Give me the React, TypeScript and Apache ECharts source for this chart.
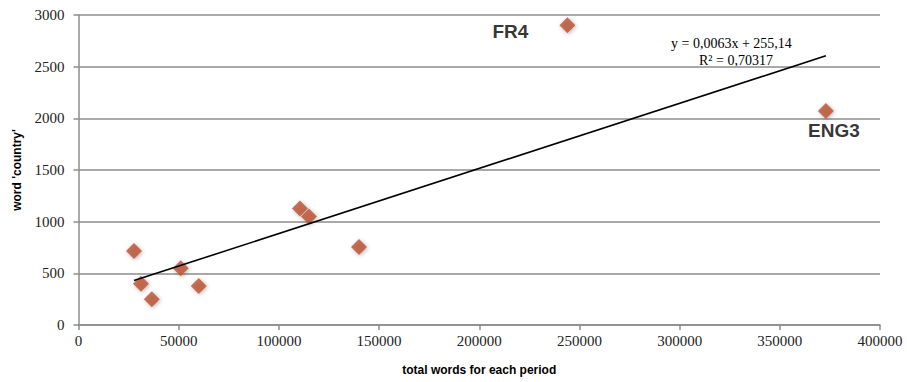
import React, { useEffect, useRef } from "react";
import * as echarts from "echarts";

const totalWords = [27700, 31200, 36600, 51000, 60000, 110500, 115000, 140000, 244000, 373000];
const countryWords = [716, 400, 250, 550, 378, 1128, 1050, 755, 2900, 2070];
const pointLabels = ["", "", "", "", "", "", "", "", "FR4", "ENG3"];
const trendSlope = 0.0063;
const trendIntercept = 255.14;
const equationText = "y = 0,0063x + 255,14";
const r2Text = "R² = 0,70317";
const xTicks = [0, 50000, 100000, 150000, 200000, 250000, 300000, 350000, 400000];
const yTicks = [0, 500, 1000, 1500, 2000, 2500, 3000];

export default function App() {
  const ref = useRef<HTMLDivElement>(null);
  useEffect(() => {
    if (!ref.current) return;
    const chart = echarts.init(ref.current, undefined, { renderer: "svg" });
    const xMin = Math.min(...totalWords);
    const xMax = Math.max(...totalWords);
    const trend = [
      [xMin, trendSlope * xMin + trendIntercept],
      [xMax, trendSlope * xMax + trendIntercept],
    ];
    const sans = "Liberation Sans";
    const serif = "Liberation Serif";
    const pts = totalWords.map((x, i) => {
      const item: any = { value: [x, countryWords[i]] };
      if (pointLabels[i] === "FR4") {
        item.label = {
          show: true, formatter: pointLabels[i], position: "left", distance: 31, offset: [0, 6],
          fontFamily: sans, fontWeight: "bold", fontSize: 19, color: "#000",
        };
      } else if (pointLabels[i] === "ENG3") {
        item.label = {
          show: true, formatter: pointLabels[i], position: "bottom", distance: 2, offset: [8, 0],
          fontFamily: sans, fontWeight: "bold", fontSize: 19, color: "#000",
        };
      }
      return item;
    });
    const tickLabel = (margin: number) => ({
      fontFamily: serif, fontSize: 15, color: "#222", margin,
      formatter: (v: number) => "{t|" + String(v) + "}",
      rich: { t: { fontFamily: serif, fontSize: 15, color: "#222" } },
    });
    chart.setOption({
      animation: false,
      backgroundColor: "#ffffff",
      grid: { left: 78.5, right: 27, top: 15, bottom: 57, containLabel: false },
      xAxis: {
        type: "value", min: xTicks[0], max: xTicks[xTicks.length - 1], interval: 50000,
        name: "total words for each period", nameLocation: "middle", nameGap: 39,
        nameTextStyle: { fontFamily: sans, fontWeight: "bold", fontSize: 12, color: "#000" },
        axisLine: { show: true, lineStyle: { color: "#8c8c8c", width: 1.5 } },
        axisTick: { show: true, length: 5, lineStyle: { color: "#8c8c8c", width: 1.5 } },
        axisLabel: tickLabel(8),
        splitLine: { show: false },
      },
      yAxis: {
        type: "value", min: yTicks[0], max: yTicks[yTicks.length - 1], interval: 500,
        name: "word 'country'", nameLocation: "middle", nameGap: 56, nameRotate: 90,
        nameTextStyle: { fontFamily: sans, fontWeight: "bold", fontSize: 12, color: "#000" },
        axisLine: { show: true, lineStyle: { color: "#8c8c8c", width: 1.5 } },
        axisTick: { show: true, length: 5, lineStyle: { color: "#8c8c8c", width: 1.5 } },
        axisLabel: tickLabel(14),
        splitLine: { show: true, lineStyle: { color: "#8c8c8c", width: 1.5 } },
      },
      series: [
        {
          type: "scatter",
          symbol: "diamond",
          symbolSize: 16,
          data: pts,
          itemStyle: {
            color: "#B9502F",
            shadowBlur: 4, shadowColor: "rgba(0,0,0,0.35)", shadowOffsetX: 1, shadowOffsetY: 1,
          },
          z: 3,
        },
        {
          type: "line",
          data: trend,
          symbol: "none",
          lineStyle: { color: "#000", width: 1.6 },
          z: 4,
          silent: true,
        },
      ],
      graphic: [
        { type: "text", left: 671, top: 36, style: { text: equationText, fontFamily: serif, fontSize: 14, fill: "#000" } },
        { type: "text", left: 699, top: 53, style: { text: r2Text, fontFamily: serif, fontSize: 14, fill: "#000" } },
      ],
    });
    return () => chart.dispose();
  }, []);
  return <div ref={ref} style={{ position: "fixed", left: 0, top: 0, width: 907, height: 382 }} />;
}
